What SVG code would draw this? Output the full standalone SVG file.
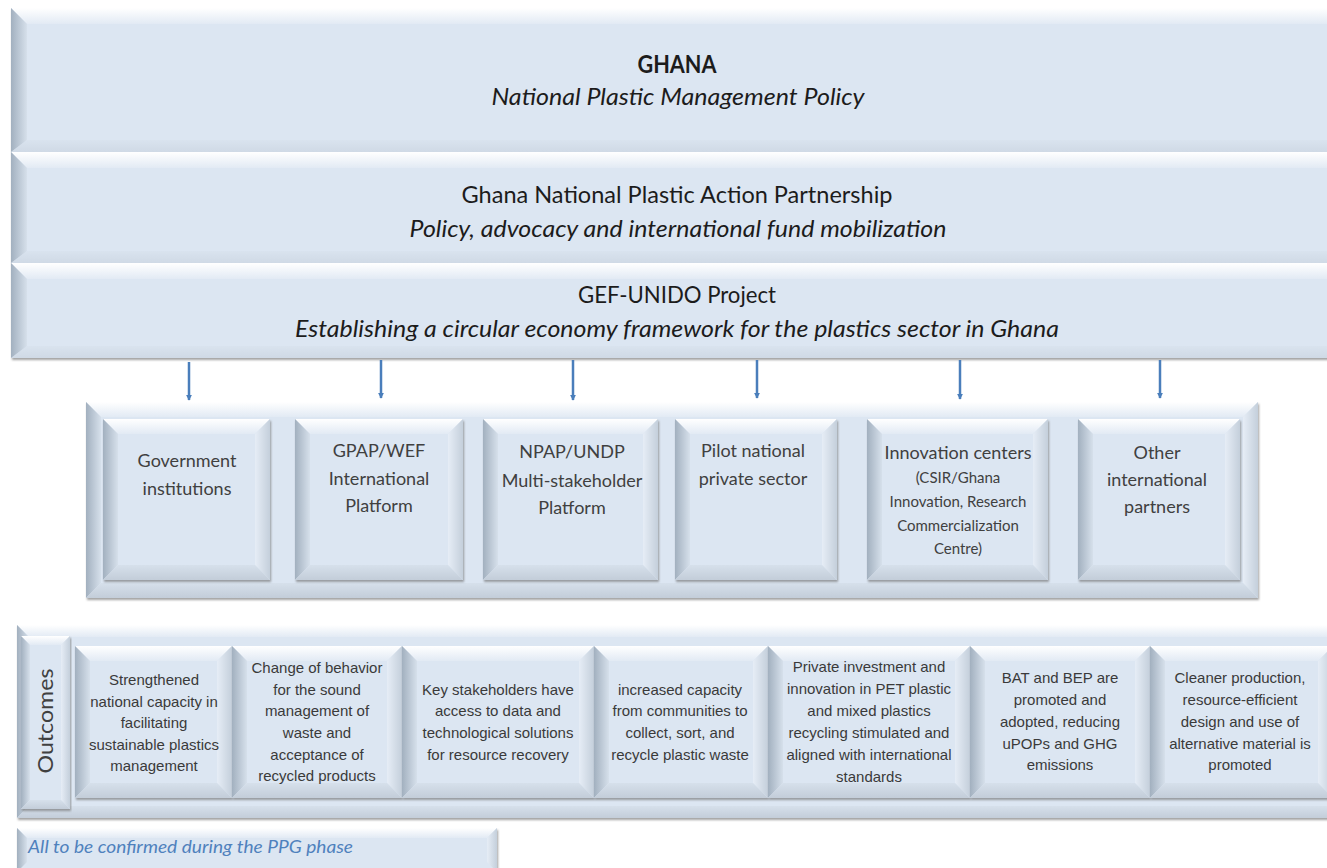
<svg xmlns="http://www.w3.org/2000/svg" width="1327" height="868" viewBox="0 0 1327 868">
  <style>
    .fc { fill: #dce6f2; }
    .ft { fill: url(#gTop); }
    .fl { fill: url(#gLeft); }
    .fr { fill: url(#gRight); }
    .fb { fill: url(#gBottom); }
    .shape { filter: url(#shadow); }
    .title { font-family: Lato, "Liberation Sans", sans-serif; font-size: 24px; fill: #1c1c1c; text-anchor: middle; }
    .bold { font-weight: bold; }
    .ital { font-style: italic; }
    .node { font-family: Lato, "Liberation Sans", sans-serif; font-size: 18px; fill: #404040; text-anchor: middle; }
    .node .sm { font-size: 15px; }
    .out { font-family: "Liberation Sans", Arial, sans-serif; font-size: 15px; fill: #3a3a3a; text-anchor: middle; }
    .label { font-family: Lato, "Liberation Sans", sans-serif; font-size: 21px; fill: #404040; text-anchor: middle; }
    .note { font-family: Lato, "Liberation Sans", sans-serif; font-size: 17px; font-style: italic; fill: #4f81bd; }
    .link { stroke: #4a7ebb; stroke-width: 2.5; fill: none; marker-end: url(#head); }
  </style>
  <defs>
    <linearGradient id="gTop" x1="0" y1="0" x2="0" y2="1">
      <stop offset="0" stop-color="#ffffff"/>
      <stop offset="1" stop-color="#e2eaf4"/>
    </linearGradient>
    <linearGradient id="gLeft" x1="0" y1="0" x2="1" y2="0">
      <stop offset="0" stop-color="#a2b0bf"/>
      <stop offset="1" stop-color="#d6e0eb"/>
    </linearGradient>
    <linearGradient id="gRight" x1="0" y1="0" x2="1" y2="0">
      <stop offset="0" stop-color="#e6edf6"/>
      <stop offset="1" stop-color="#c4cfdb"/>
    </linearGradient>
    <linearGradient id="gBottom" x1="0" y1="0" x2="0" y2="1">
      <stop offset="0" stop-color="#d6e0eb"/>
      <stop offset="1" stop-color="#c3cdd9"/>
    </linearGradient>
    <filter id="shadow" x="-3%" y="-3%" width="106%" height="110%">
      <feDropShadow dx="1" dy="2" stdDeviation="1.2" flood-color="#707070" flood-opacity="0.65"/>
    </filter>
    <marker id="head" viewBox="0 0 8 8" refX="7" refY="4" markerWidth="6" markerHeight="6" markerUnits="userSpaceOnUse" orient="auto">
      <path d="M0,0 L8,4 L0,8 z" fill="#4a7ebb"/>
    </marker>
  </defs>

  <rect width="1327" height="868" fill="#ffffff"/>

  <!-- top tier: three stacked beveled bands -->
  <g id="band-policy">
    <g class="shape">
      <rect class="fc" x="11" y="8" width="1335" height="144"/>
      <polygon class="ft" points="11,8 1346,8 1330,24 27,24"/>
      <polygon class="fl" points="11,8 27,24 27,140 11,152"/>
      <polygon class="fb" points="11,152 27,140 1334,140 1346,152" opacity="0.5"/>
    </g>
    <text class="title bold" x="677" y="73" textLength="79" lengthAdjust="spacingAndGlyphs">GHANA</text>
    <text class="title ital" x="678" y="105" textLength="373" lengthAdjust="spacingAndGlyphs">National Plastic Management Policy</text>
  </g>

  <g id="band-partnership">
    <g class="shape">
      <rect class="fc" x="11" y="152" width="1335" height="111"/>
      <polygon class="ft" points="11,152 1346,152 1330,168 27,168"/>
      <polygon class="fl" points="11,152 27,168 27,251 11,263"/>
      <polygon class="fb" points="11,263 27,251 1334,251 1346,263" opacity="0.5"/>
    </g>
    <text class="title" x="677" y="203" textLength="431" lengthAdjust="spacingAndGlyphs">Ghana National Plastic Action Partnership</text>
    <text class="title ital" x="678" y="237" textLength="537" lengthAdjust="spacingAndGlyphs">Policy, advocacy and international fund mobilization</text>
  </g>

  <g id="band-project">
    <g class="shape">
      <rect class="fc" x="11" y="263" width="1335" height="95"/>
      <polygon class="ft" points="11,263 1346,263 1330,279 27,279"/>
      <polygon class="fl" points="11,263 27,279 27,346 11,358"/>
      <polygon class="fb" points="11,358 27,346 1334,346 1346,358" opacity="0.5"/>
    </g>
    <text class="title" x="677" y="303" textLength="198" lengthAdjust="spacingAndGlyphs">GEF-UNIDO Project</text>
    <text class="title ital" x="677" y="337" textLength="764" lengthAdjust="spacingAndGlyphs">Establishing a circular economy framework for the plastics sector in Ghana</text>
  </g>

  <!-- connectors from the project band down to the partner boxes -->
  <g id="connectors">
    <line class="link" x1="189" y1="362" x2="189" y2="400"/>
    <line class="link" x1="381" y1="360" x2="381" y2="398"/>
    <line class="link" x1="573" y1="360" x2="573" y2="400"/>
    <line class="link" x1="757" y1="360" x2="757" y2="398"/>
    <line class="link" x1="960" y1="360" x2="960" y2="399"/>
    <line class="link" x1="1160" y1="360" x2="1160" y2="398"/>
  </g>

  <!-- partner tier container -->
  <g id="partners-panel" class="shape">
    <rect class="fc" x="86" y="402" width="1172" height="196"/>
    <polygon class="ft" points="86,402 1258,402 1243,417 101,417"/>
    <polygon class="fl" points="86,402 101,417 101,583 86,598"/>
    <polygon class="fr" points="1258,402 1258,598 1243,583 1243,417"/>
    <polygon class="fb" points="86,598 101,583 1243,583 1258,598"/>
  </g>

  <g id="node-government">
    <g class="shape">
      <rect class="fc" x="103" y="419" width="167" height="161"/>
      <polygon class="ft" points="103,419 270,419 255,434 118,434"/>
      <polygon class="fl" points="103,419 118,434 118,565 103,580"/>
      <polygon class="fr" points="270,419 270,580 255,565 255,434"/>
      <polygon class="fb" points="103,580 118,565 255,565 270,580"/>
    </g>
    <text class="node" x="187"><tspan x="187" y="467">Government</tspan><tspan x="187" y="495">institutions</tspan></text>
  </g>

  <g id="node-gpap">
    <g class="shape">
      <rect class="fc" x="295" y="419" width="168" height="161"/>
      <polygon class="ft" points="295,419 463,419 448,434 310,434"/>
      <polygon class="fl" points="295,419 310,434 310,565 295,580"/>
      <polygon class="fr" points="463,419 463,580 448,565 448,434"/>
      <polygon class="fb" points="295,580 310,565 448,565 463,580"/>
    </g>
    <text class="node"><tspan x="379" y="457">GPAP/WEF</tspan><tspan x="379" y="485">International</tspan><tspan x="379" y="512">Platform</tspan></text>
  </g>

  <g id="node-npap">
    <g class="shape">
      <rect class="fc" x="483" y="419" width="175" height="161"/>
      <polygon class="ft" points="483,419 658,419 643,434 498,434"/>
      <polygon class="fl" points="483,419 498,434 498,565 483,580"/>
      <polygon class="fr" points="658,419 658,580 643,565 643,434"/>
      <polygon class="fb" points="483,580 498,565 643,565 658,580"/>
    </g>
    <text class="node"><tspan x="572" y="458">NPAP/UNDP</tspan><tspan x="572" y="487">Multi-stakeholder</tspan><tspan x="572" y="514">Platform</tspan></text>
  </g>

  <g id="node-private">
    <g class="shape">
      <rect class="fc" x="675" y="419" width="162" height="161"/>
      <polygon class="ft" points="675,419 837,419 822,434 690,434"/>
      <polygon class="fl" points="675,419 690,434 690,565 675,580"/>
      <polygon class="fr" points="837,419 837,580 822,565 822,434"/>
      <polygon class="fb" points="675,580 690,565 822,565 837,580"/>
    </g>
    <text class="node"><tspan x="753" y="457">Pilot national</tspan><tspan x="753" y="485">private sector</tspan></text>
  </g>

  <g id="node-innovation">
    <g class="shape">
      <rect class="fc" x="867" y="419" width="181" height="161"/>
      <polygon class="ft" points="867,419 1048,419 1033,434 882,434"/>
      <polygon class="fl" points="867,419 882,434 882,565 867,580"/>
      <polygon class="fr" points="1048,419 1048,580 1033,565 1033,434"/>
      <polygon class="fb" points="867,580 882,565 1033,565 1048,580"/>
    </g>
    <text class="node"><tspan x="958" y="459">Innovation centers</tspan><tspan class="sm" x="958" y="483">(CSIR/Ghana</tspan><tspan class="sm" x="958" y="507">Innovation, Research</tspan><tspan class="sm" x="958" y="531">Commercialization</tspan><tspan class="sm" x="958" y="554">Centre)</tspan></text>
  </g>

  <g id="node-other">
    <g class="shape">
      <rect class="fc" x="1078" y="419" width="162" height="161"/>
      <polygon class="ft" points="1078,419 1240,419 1225,434 1093,434"/>
      <polygon class="fl" points="1078,419 1093,434 1093,565 1078,580"/>
      <polygon class="fr" points="1240,419 1240,580 1225,565 1225,434"/>
      <polygon class="fb" points="1078,580 1093,565 1225,565 1240,580"/>
    </g>
    <text class="node"><tspan x="1157" y="459">Other</tspan><tspan x="1157" y="486">international</tspan><tspan x="1157" y="513">partners</tspan></text>
  </g>

  <!-- outcomes tier -->
  <g id="outcomes-panel" class="shape">
    <rect class="fc" x="17" y="625" width="1323" height="193"/>
    <polygon class="ft" points="17,625 1340,625 1328,637 29,637"/>
    <polygon class="fl" points="17,625 29,637 29,806 17,818"/>
    <polygon class="fb" points="17,818 29,806 1328,806 1340,818"/>
  </g>

  <g id="outcomes-label">
    <g class="shape">
      <rect class="fc" x="21" y="636" width="49" height="173"/>
      <polygon class="ft" points="21,636 70,636 61,645 30,645"/>
      <polygon class="fl" points="21,636 30,645 30,800 21,809"/>
      <polygon class="fr" points="70,636 70,809 61,800 61,645"/>
      <polygon class="fb" points="21,809 30,800 61,800 70,809"/>
    </g>
    <text class="label" transform="translate(53,721) rotate(-90)" x="0" y="0" textLength="105" lengthAdjust="spacingAndGlyphs">Outcomes</text>
  </g>

  <g id="outcome-capacity">
    <g class="shape">
      <rect class="fc" x="75" y="646" width="157" height="152"/>
      <polygon class="ft" points="75,646 232,646 217,661 90,661"/>
      <polygon class="fl" points="75,646 90,661 90,783 75,798"/>
      <polygon class="fr" points="232,646 232,798 217,783 217,661"/>
      <polygon class="fb" points="75,798 90,783 217,783 232,798"/>
    </g>
    <text class="out"><tspan x="154" y="685">Strengthened</tspan><tspan x="154" y="707">national capacity in</tspan><tspan x="154" y="728">facilitating</tspan><tspan x="154" y="750">sustainable plastics</tspan><tspan x="154" y="771">management</tspan></text>
  </g>

  <g id="outcome-behavior">
    <g class="shape">
      <rect class="fc" x="232" y="646" width="170" height="152"/>
      <polygon class="ft" points="232,646 402,646 387,661 247,661"/>
      <polygon class="fl" points="232,646 247,661 247,783 232,798"/>
      <polygon class="fr" points="402,646 402,798 387,783 387,661"/>
      <polygon class="fb" points="232,798 247,783 387,783 402,798"/>
    </g>
    <text class="out"><tspan x="317" y="673">Change of behavior</tspan><tspan x="317" y="695">for the sound</tspan><tspan x="317" y="716">management of</tspan><tspan x="317" y="738">waste and</tspan><tspan x="317" y="760">acceptance of</tspan><tspan x="317" y="781">recycled products</tspan></text>
  </g>

  <g id="outcome-data">
    <g class="shape">
      <rect class="fc" x="402" y="646" width="192" height="152"/>
      <polygon class="ft" points="402,646 594,646 579,661 417,661"/>
      <polygon class="fl" points="402,646 417,661 417,783 402,798"/>
      <polygon class="fr" points="594,646 594,798 579,783 579,661"/>
      <polygon class="fb" points="402,798 417,783 579,783 594,798"/>
    </g>
    <text class="out"><tspan x="498" y="695">Key stakeholders have</tspan><tspan x="498" y="716">access to data and</tspan><tspan x="498" y="738">technological solutions</tspan><tspan x="498" y="760">for resource recovery</tspan></text>
  </g>

  <g id="outcome-communities">
    <g class="shape">
      <rect class="fc" x="594" y="646" width="174" height="152"/>
      <polygon class="ft" points="594,646 768,646 753,661 609,661"/>
      <polygon class="fl" points="594,646 609,661 609,783 594,798"/>
      <polygon class="fr" points="768,646 768,798 753,783 753,661"/>
      <polygon class="fb" points="594,798 609,783 753,783 768,798"/>
    </g>
    <text class="out"><tspan x="680" y="695">increased capacity</tspan><tspan x="680" y="716">from communities to</tspan><tspan x="680" y="738">collect, sort, and</tspan><tspan x="680" y="760">recycle plastic waste</tspan></text>
  </g>

  <g id="outcome-investment">
    <g class="shape">
      <rect class="fc" x="768" y="646" width="202" height="152"/>
      <polygon class="ft" points="768,646 970,646 955,661 783,661"/>
      <polygon class="fl" points="768,646 783,661 783,783 768,798"/>
      <polygon class="fr" points="970,646 970,798 955,783 955,661"/>
      <polygon class="fb" points="768,798 783,783 955,783 970,798"/>
    </g>
    <text class="out"><tspan x="869" y="672">Private investment and</tspan><tspan x="869" y="694">innovation in PET plastic</tspan><tspan x="869" y="716">and mixed plastics</tspan><tspan x="869" y="738">recycling stimulated and</tspan><tspan x="869" y="760">aligned with international</tspan><tspan x="869" y="782">standards</tspan></text>
  </g>

  <g id="outcome-bat-bep">
    <g class="shape">
      <rect class="fc" x="970" y="646" width="180" height="152"/>
      <polygon class="ft" points="970,646 1150,646 1135,661 985,661"/>
      <polygon class="fl" points="970,646 985,661 985,783 970,798"/>
      <polygon class="fr" points="1150,646 1150,798 1135,783 1135,661"/>
      <polygon class="fb" points="970,798 985,783 1135,783 1150,798"/>
    </g>
    <text class="out"><tspan x="1060" y="683">BAT and BEP are</tspan><tspan x="1060" y="705">promoted and</tspan><tspan x="1060" y="727">adopted, reducing</tspan><tspan x="1060" y="749">uPOPs and GHG</tspan><tspan x="1060" y="770">emissions</tspan></text>
  </g>

  <g id="outcome-cleaner">
    <g class="shape">
      <rect class="fc" x="1150" y="646" width="183" height="152"/>
      <polygon class="ft" points="1150,646 1333,646 1318,661 1165,661"/>
      <polygon class="fl" points="1150,646 1165,661 1165,783 1150,798"/>
      <polygon class="fr" points="1333,646 1333,798 1318,783 1318,661"/>
      <polygon class="fb" points="1150,798 1165,783 1318,783 1333,798"/>
    </g>
    <text class="out"><tspan x="1240" y="683">Cleaner production,</tspan><tspan x="1240" y="705">resource-efficient</tspan><tspan x="1240" y="727">design and use of</tspan><tspan x="1240" y="749">alternative material is</tspan><tspan x="1240" y="770">promoted</tspan></text>
  </g>

  <!-- footnote strip -->
  <g id="footnote">
    <g class="shape">
      <rect class="fc" x="17" y="828" width="480" height="44"/>
      <polygon class="ft" points="17,828 497,828 487,838 27,838"/>
      <polygon class="fl" points="17,828 27,838 27,862 17,872"/>
      <polygon class="fr" points="497,828 497,872 487,862 487,838"/>
    </g>
    <text class="note" x="28" y="853" textLength="325" lengthAdjust="spacingAndGlyphs">All to be confirmed during the PPG phase</text>
  </g>
</svg>
